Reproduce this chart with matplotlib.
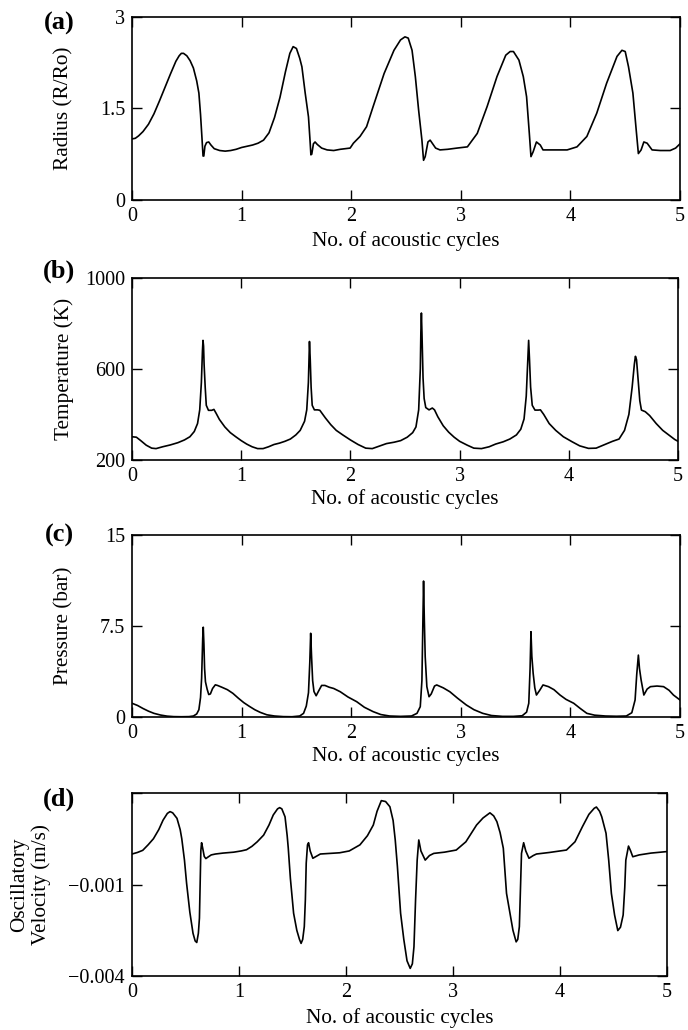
import numpy as np
import matplotlib
matplotlib.use("Agg")
import matplotlib.pyplot as plt

plt.rcParams['font.family'] = ['Liberation Serif', 'DejaVu Serif']
plt.rcParams['font.size'] = 14.5
plt.rcParams['axes.linewidth'] = 1.2

# (a) radius R/Ro vs acoustic cycles
rad_x = [0.00, 0.03, 0.06, 0.10, 0.15, 0.20, 0.25, 0.30, 0.35, 0.40, 0.43, 0.45, 0.47, 0.50,
         0.53, 0.56, 0.59, 0.61, 0.625, 0.637, 0.648, 0.655, 0.665, 0.68, 0.70, 0.72, 0.75,
         0.80, 0.85, 0.90, 0.95, 1.00, 1.05, 1.10, 1.15, 1.20, 1.25, 1.30, 1.35, 1.40, 1.44,
         1.47, 1.50, 1.53, 1.55, 1.58, 1.61, 1.625, 1.632, 1.64, 1.655, 1.67, 1.69, 1.73,
         1.78, 1.84, 1.90, 1.99, 2.02, 2.08, 2.14, 2.20, 2.30, 2.39, 2.45, 2.49, 2.52, 2.555,
         2.585, 2.615, 2.645, 2.66, 2.675, 2.70, 2.72, 2.77, 2.81, 2.88, 2.965, 3.06, 3.15,
         3.24, 3.33, 3.41, 3.45, 3.48, 3.53, 3.57, 3.60, 3.625, 3.64, 3.66, 3.69, 3.725,
         3.75, 3.85, 3.97, 4.06, 4.15, 4.24, 4.33, 4.425, 4.47, 4.50, 4.53, 4.57, 4.60,
         4.62, 4.645, 4.67, 4.70, 4.745, 4.82, 4.91, 4.96, 5.00]
rad_y = [1.00, 1.01, 1.05, 1.12, 1.24, 1.41, 1.62, 1.84, 2.06, 2.27, 2.36, 2.40, 2.40, 2.36,
         2.28, 2.16, 1.95, 1.75, 1.40, 1.05, 0.72, 0.72, 0.88, 0.94, 0.95, 0.90, 0.84,
         0.81, 0.80, 0.81, 0.83, 0.86, 0.88, 0.90, 0.93, 0.98, 1.10, 1.35, 1.68, 2.10, 2.40,
         2.51, 2.48, 2.32, 2.18, 1.75, 1.36, 0.95, 0.74, 0.75, 0.92, 0.95, 0.91, 0.85,
         0.82, 0.81, 0.83, 0.85, 0.93, 1.04, 1.20, 1.53, 2.07, 2.45, 2.62, 2.67, 2.65, 2.45,
         2.02, 1.47, 0.98, 0.65, 0.71, 0.95, 0.98, 0.85, 0.82, 0.83, 0.85, 0.87, 1.09,
         1.53, 2.02, 2.37, 2.43, 2.43, 2.29, 2.02, 1.69, 1.09, 0.71, 0.79, 0.95, 0.90,
         0.82, 0.82, 0.82, 0.87, 1.04, 1.42, 1.91, 2.35, 2.45, 2.43, 2.18, 1.75, 1.15,
         0.76, 0.82, 0.95, 0.93, 0.82, 0.81, 0.81, 0.85, 0.92]

# (b) temperature (K)
temp_x = [0.00, 0.04, 0.08, 0.13, 0.18, 0.22, 0.28, 0.35, 0.42, 0.48, 0.53, 0.57, 0.60, 0.62,
          0.635, 0.645, 0.65, 0.655, 0.66, 0.67, 0.68, 0.70, 0.73, 0.75, 0.77, 0.80, 0.85,
          0.90, 0.95, 1.00, 1.05, 1.10, 1.15, 1.20, 1.25, 1.30, 1.35, 1.40, 1.45, 1.50, 1.54,
          1.58, 1.60, 1.615, 1.625, 1.632, 1.64, 1.65, 1.67, 1.70, 1.72, 1.74, 1.77, 1.82,
          1.87, 1.93, 2.00, 2.07, 2.14, 2.20, 2.26, 2.33, 2.40, 2.46, 2.52, 2.57, 2.60, 2.625,
          2.64, 2.645, 2.65, 2.655, 2.665, 2.675, 2.69, 2.72, 2.75, 2.77, 2.80, 2.85, 2.90,
          2.95, 3.00, 3.07, 3.13, 3.20, 3.27, 3.33, 3.40, 3.46, 3.52, 3.56, 3.59, 3.61, 3.625,
          3.632, 3.64, 3.65, 3.665, 3.69, 3.72, 3.74, 3.77, 3.82, 3.88, 3.95, 4.03, 4.10,
          4.18, 4.25, 4.32, 4.40, 4.46, 4.51, 4.55, 4.58, 4.60, 4.61, 4.62, 4.635, 4.65,
          4.665, 4.70, 4.74, 4.80, 4.86, 4.92, 4.97, 5.00]
temp_y = [302, 300, 285, 265, 252, 250, 258, 266, 276, 288, 302, 325, 360, 420,
          540, 680, 725, 700, 620, 520, 440, 418, 418, 422, 405, 378, 345,
          320, 302, 285, 270, 258, 250, 250, 258, 268, 274, 282, 292, 310, 330,
          370, 420, 540, 720, 640, 520, 440, 420, 420, 418, 405, 385, 355,
          330, 310, 288, 268, 252, 250, 260, 272, 278, 285, 300, 320, 345, 420,
          600, 760, 845, 760, 560, 470, 430, 420, 428, 420, 390, 350, 322,
          300, 282, 265, 252, 250, 258, 270, 280, 292, 310, 335, 380, 480, 650,
          725, 640, 520, 440, 419, 419, 420, 400, 360, 330, 302, 280, 262,
          251, 252, 266, 282, 292, 330, 400, 520, 620, 655, 640, 550, 460,
          419, 412, 395, 360, 330, 308, 290, 282]

# (c) pressure (bar)
pres_x = [0.00, 0.05, 0.10, 0.15, 0.20, 0.26, 0.32, 0.38, 0.45, 0.52, 0.56, 0.59, 0.61, 0.625,
          0.635, 0.645, 0.65, 0.656, 0.662, 0.67, 0.685, 0.70, 0.715, 0.735, 0.76, 0.78, 0.82,
          0.87, 0.92, 0.97, 1.02, 1.07, 1.12, 1.17, 1.23, 1.30, 1.38, 1.46, 1.53, 1.565, 1.59,
          1.61, 1.622, 1.63, 1.638, 1.648, 1.66, 1.68, 1.70, 1.73, 1.76, 1.80, 1.84, 1.90,
          1.97, 2.05, 2.12, 2.20, 2.27, 2.35, 2.45, 2.55, 2.60, 2.63, 2.645, 2.655, 2.66,
          2.667, 2.675, 2.69, 2.71, 2.73, 2.76, 2.78, 2.84, 2.90, 2.97, 3.05, 3.12, 3.20,
          3.28, 3.38, 3.48, 3.56, 3.60, 3.62, 3.632, 3.64, 3.648, 3.66, 3.675, 3.69, 3.72,
          3.75, 3.80, 3.85, 3.905, 3.96, 4.03, 4.09, 4.15, 4.22, 4.32, 4.42, 4.51, 4.56,
          4.59, 4.605, 4.62, 4.63, 4.645, 4.67, 4.70, 4.73, 4.79, 4.85, 4.90, 4.94, 5.00]
pres_y = [1.13, 0.95, 0.70, 0.48, 0.30, 0.16, 0.07, 0.03, 0.02, 0.03, 0.08, 0.25, 0.60, 1.6,
          3.2, 6.5, 7.4, 6.0, 4.0, 2.9, 2.3, 1.85, 1.9, 2.35, 2.65, 2.6, 2.45,
          2.25, 1.95, 1.55, 1.18, 0.88, 0.60, 0.38, 0.18, 0.08, 0.03, 0.02, 0.08, 0.30, 0.9,
          2.0, 4.5, 6.9, 5.0, 3.0, 2.1, 1.75, 2.1, 2.6, 2.6, 2.45, 2.35, 2.08,
          1.65, 1.26, 0.80, 0.44, 0.20, 0.08, 0.05, 0.08, 0.30, 0.85, 3.0, 8.5, 11.2,
          8.0, 4.97, 2.5, 1.67, 1.9, 2.55, 2.64, 2.4, 2.08, 1.55, 0.99, 0.60, 0.30,
          0.12, 0.05, 0.05, 0.10, 0.40, 1.13, 4.0, 7.03, 5.0, 3.6, 2.4, 1.81, 2.2,
          2.64, 2.5, 2.25, 1.81, 1.45, 1.13, 0.70, 0.30, 0.15, 0.08, 0.06, 0.08, 0.35,
          1.4, 3.5, 5.1, 4.0, 3.05, 1.81, 2.3, 2.5, 2.55, 2.5, 2.2, 1.81, 1.40]

# (d) oscillatory velocity (m/s)
vel_x = [0.00, 0.05, 0.10, 0.15, 0.20, 0.25, 0.29, 0.33, 0.355, 0.38, 0.42, 0.45, 0.465, 0.49,
         0.51, 0.54, 0.57, 0.59, 0.605, 0.62, 0.63, 0.637, 0.643, 0.65, 0.66, 0.675, 0.69,
         0.71, 0.74, 0.78, 0.85, 0.95, 1.02, 1.07, 1.12, 1.17, 1.23, 1.28, 1.32, 1.36, 1.38,
         1.40, 1.43, 1.45, 1.46, 1.48, 1.51, 1.54, 1.565, 1.58, 1.595, 1.61, 1.62, 1.628,
         1.64, 1.65, 1.665, 1.69, 1.72, 1.76, 1.85, 1.94, 2.03, 2.13, 2.20, 2.255, 2.29,
         2.33, 2.37, 2.41, 2.44, 2.46, 2.48, 2.51, 2.54, 2.57, 2.60, 2.62, 2.635, 2.65,
         2.665, 2.68, 2.70, 2.74, 2.78, 2.82, 2.92, 3.03, 3.12, 3.22, 3.28, 3.345, 3.38,
         3.41, 3.44, 3.47, 3.50, 3.53, 3.56, 3.59, 3.605, 3.62, 3.63, 3.64, 3.66, 3.68,
         3.71, 3.75, 3.78, 3.90, 4.06, 4.14, 4.21, 4.27, 4.32, 4.34, 4.37, 4.39, 4.43,
         4.455, 4.48, 4.51, 4.54, 4.565, 4.59, 4.605, 4.615, 4.64, 4.66, 4.68, 4.71, 4.74,
         4.85, 5.00]
vel_y = [0.0, 0.00005, 0.00012, 0.0003, 0.0005, 0.0008, 0.00111, 0.00133, 0.00139, 0.00135,
         0.00117, 0.0008, 0.0005, -0.0002, -0.00096, -0.0019, -0.0026, -0.00285, -0.0029,
         -0.0026, -0.0021, -0.001, 0.0001, 0.00037, 0.0002, -0.00008, -0.00015, -0.0001,
         -0.00003, 0.0, 0.00003, 0.00006, 0.0001, 0.00014, 0.00025, 0.0004, 0.00062, 0.00095,
         0.00128, 0.00148, 0.00152, 0.00148, 0.00122, 0.0006, 0.0002, -0.0008, -0.00194,
         -0.0025, -0.0028, -0.00293, -0.0028, -0.00238, -0.0015, -0.0003, 0.0003, 0.00037,
         0.0001, -0.00014, -0.00008, 0.0, 0.00002, 0.00004, 0.0001, 0.0003, 0.0006, 0.00095,
         0.0014, 0.00175, 0.00172, 0.00155, 0.0011, 0.00046, -0.0004, -0.00194, -0.0028,
         -0.0035, -0.00375, -0.0036, -0.00304, -0.0015, -0.0002, 0.00046, 0.0001, -0.0002,
         -0.00005, 0.00002, 0.00006, 0.00013, 0.0004, 0.00095, 0.00118, 0.00135, 0.00125,
         0.00106, 0.0007, 0.00019, -0.00129, -0.0019, -0.0025, -0.00288, -0.0028, -0.00238,
         -0.0012, 0.00002, 0.00037, 0.0001, -0.00014, -0.00005, 0.0, 0.00005, 0.00013,
         0.0004, 0.0009, 0.0013, 0.0015, 0.00154, 0.0014, 0.00122, 0.00068, -0.0002,
         -0.00129, -0.002, -0.00251, -0.0024, -0.002, -0.0011, -0.0002, 0.00026, 0.0001,
         -0.00009, -0.00006, -0.00003, 0.00003, 0.00008]

xticks = [0, 1, 2, 3, 4, 5]
xlabel = "No. of acoustic cycles"

panels = [
    # rect, x, y, ylim, yticks, yticklabels, ylabel, ylabel_x, xlabel_y, tag, tag_y
    ([0.1919, 0.8058, 0.7965, 0.1780], rad_x, rad_y, (0, 3), [0, 1.5, 3], ["0", "1.5", "3"],
     "Radius (R/Ro)", -0.124, -0.222, "(a)", 0.977),
    ([0.1919, 0.5534, 0.7936, 0.1770], temp_x, temp_y, (200, 1000), [200, 600, 1000],
     ["200", "600", "1000"], "Temperature (K)", -0.124, -0.212, "(b)", 0.737),
    ([0.1919, 0.3039, 0.7965, 0.1767], pres_x, pres_y, (0, 15), [0, 7.5, 15],
     ["0", "7.5", "15"], "Pressure (bar)", -0.124, -0.212, "(c)", 0.480),
    ([0.1919, 0.0524, 0.7776, 0.1777], vel_x, vel_y, (-0.004, 0.002), [-0.004, -0.001, 0.002],
     ["\u22120.004", "\u22120.001", ""], "Oscillatory\nVelocity (m/s)", -0.19, -0.23, "(d)", 0.224),
]

fig = plt.figure(figsize=(6.88, 10.30), dpi=100)

for rect, xs, ys, ylim, yt, ytl, ylab, ylx, xly, tag, tagy in panels:
    ax = fig.add_axes(rect)
    ax.plot(xs, ys, color="black", lw=1.2)
    ax.set_xlim(0, 5)
    ax.set_ylim(*ylim)
    ax.set_xticks(xticks)
    ax.set_yticks(yt)
    ax.set_yticklabels(ytl)
    ax.tick_params(direction="in", length=7, width=1, top=True, right=True,
                   labelsize=14.5, pad=5)
    ax.set_xlabel(xlabel, fontsize=15.3, va="center")
    ax.xaxis.set_label_coords(0.5, xly)
    ax.set_ylabel(ylab, fontsize=15.3, va="center", linespacing=1.15)
    ax.yaxis.set_label_coords(ylx, 0.5)
    fig.text(0.086, tagy, tag, fontsize=19, fontweight="bold", ha="center", va="center")

fig.savefig("out.png", dpi=100)
